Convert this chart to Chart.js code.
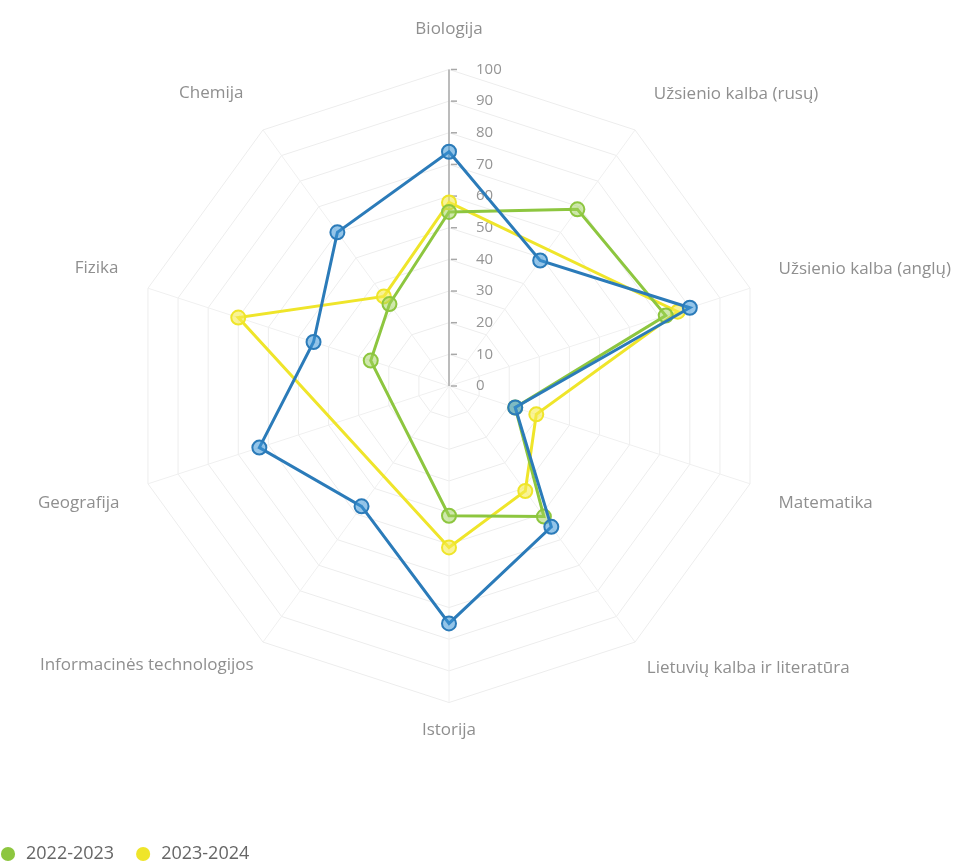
<!DOCTYPE html>
<html>
<head>
<meta charset="utf-8">
<script src="https://cdn.jsdelivr.net/npm/chart.js@4/dist/chart.umd.min.js"></script>
<style>
  html, body { margin: 0; padding: 0; background: #fff; overflow: hidden; }
  .wrap { position: absolute; left: -21px; top: 0; width: 1004px; height: 863px; }
</style>
</head>
<body>
<div class="wrap"><canvas id="radar"></canvas></div>
<script>
const subjects = ['Biologija', 'Užsienio kalba (rusų)', 'Užsienio kalba (anglų)', 'Matematika',
  'Lietuvių kalba ir literatūra', 'Istorija', 'Informacinės technologijos', 'Geografija', 'Fizika', 'Chemija'];
const blueValues = [74, 49, 80, 22, 55, 75, 47, 63, 45, 60];
const greenValues = [55, 69, 72, 22, 51, 41, null, null, 26, 32];
const yellowValues = [58, null, 76, 29, 41, 51, null, null, 70, 35];
const tickValues = [0, 10, 20, 30, 40, 50, 60, 70, 80, 90, 100];
// gap between the outer ring and each subject label
const labelGaps = [30, 32, 30, 30, 20, 17, 16, 30, 31, 33];

// vertical axis + ticks to the right of it, along the first spoke
const axisPlugin = {
  id: 'axisPlugin',
  beforeDatasetsDraw(chart) {
    const r = chart.scales.r;
    const ctx = chart.ctx;
    const top = r.getPointPositionForValue(0, 100);
    ctx.save();
    ctx.strokeStyle = '#a8a8a8';
    ctx.lineWidth = 1.5;
    ctx.beginPath();
    ctx.moveTo(r.xCenter, r.yCenter);
    ctx.lineTo(top.x, top.y);
    ctx.stroke();
    ctx.font = '15px "Open Sans"';
    ctx.fillStyle = '#959595';
    ctx.textAlign = 'left';
    ctx.textBaseline = 'middle';
    tickValues.forEach((v) => {
      const y = r.yCenter - r.getDistanceFromCenterForValue(v);
      ctx.beginPath();
      ctx.moveTo(r.xCenter + 2, y);
      ctx.lineTo(r.xCenter + 8, y);
      ctx.stroke();
      ctx.fillText(String(v), r.xCenter + 27, y);
    });
    ctx.restore();
  }
};

function series(label, data, color, fill) {
  return {
    label, data,
    borderColor: color,
    backgroundColor: fill,
    pointBackgroundColor: fill,
    pointBorderColor: color,
    borderWidth: 3,
    pointRadius: 7,
    pointBorderWidth: 2,
    fill: false,
    spanGaps: true
  };
}

new Chart(document.getElementById('radar'), {
  type: 'radar',
  data: {
    labels: subjects,
    datasets: [
      series('2021-2022', blueValues, '#2b7bb9', 'rgba(60,150,215,0.55)'),
      series('2022-2023', greenValues, '#8dc63f', 'rgba(160,210,90,0.5)'),
      series('2023-2024', yellowValues, '#efe52a', 'rgba(245,235,80,0.6)')
    ]
  },
  options: {
    responsive: true,
    maintainAspectRatio: false,
    animation: false,
    layout: { padding: { left: 0, right: 0, top: -16, bottom: -10 } },
    plugins: {
      tooltip: { enabled: false },
      legend: {
        position: 'bottom',
        align: 'start',
        title: { display: true, text: '', padding: { top: 50, bottom: 0 } },
        labels: {
          usePointStyle: true,
          pointStyle: 'circle',
          boxHeight: 10,
          padding: 20,
          color: '#444',
          font: { family: '"Open Sans"', size: 18 },
          filter: (item) => item.text !== '2021-2022',
          generateLabels: (chart) => chart.data.datasets.map((ds, i) => ({
            text: ds.label,
            fillStyle: ds.borderColor,
            strokeStyle: ds.borderColor,
            lineWidth: 0,
            pointStyle: 'circle',
            datasetIndex: i
          }))
        }
      }
    },
    scales: {
      r: {
        min: 0,
        max: 100,
        ticks: { display: false, stepSize: 10 },
        grid: { color: '#ededed', lineWidth: 1 },
        angleLines: { color: '#f0f0f0', lineWidth: 1 },
        pointLabels: {
          padding: (ctx) => labelGaps[ctx.index],
          color: '#8f8f8f',
          font: { family: '"Open Sans"', size: 17 }
        }
      }
    }
  },
  plugins: [axisPlugin]
});
</script>
</body>
</html>
